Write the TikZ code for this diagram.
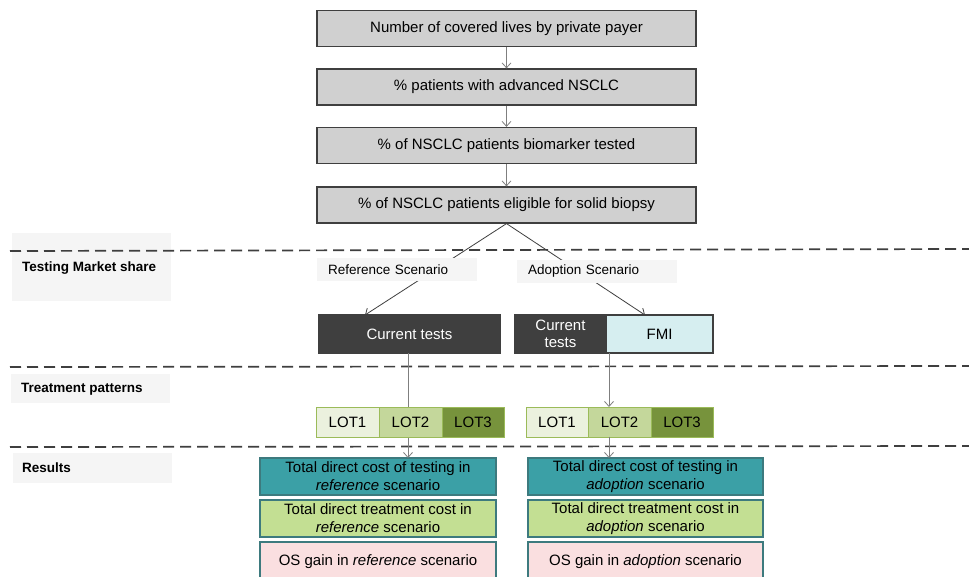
\documentclass[tikz,border=0pt]{standalone}
\usepackage{fontspec}
\setmainfont{Liberation Sans}
\usetikzlibrary{arrows.meta,calc}
\definecolor{topfill}{HTML}{D0D0D0}
\definecolor{edgegray}{HTML}{3F3F3F}
\definecolor{arrgray}{HTML}{7F7F7F}
\definecolor{lblfill}{HTML}{F5F5F5}
\definecolor{darkfill}{HTML}{3F3F3F}
\definecolor{fmifill}{HTML}{D6EEF0}
\definecolor{lotone}{HTML}{EBF1DE}
\definecolor{lottwo}{HTML}{C4D79B}
\definecolor{lotthree}{HTML}{77933C}
\definecolor{lotedge}{HTML}{9BBB59}
\definecolor{tealfill}{HTML}{3BA0A6}
\definecolor{greenfill}{HTML}{C3DF93}
\definecolor{pinkfill}{HTML}{FADFE0}
\definecolor{resedge}{HTML}{3D7A7E}
\newcommand\myfs{\fontsize{15}{18}\selectfont}
\newcommand\mylblfs{\fontsize{13.5}{16}\selectfont}
\begin{document}
\begin{tikzpicture}[x=1pt,y=-1pt,
  topbox/.style={draw=edgegray, line width=1.2pt, fill=topfill, minimum width=379pt, minimum height=36pt, inner sep=0pt, font=\myfs},
  flowarrow/.style={draw=arrgray, line width=0.8pt, -{Straight Barb[length=5pt,width=9pt]}},
  darkarrow/.style={draw=edgegray, line width=0.8pt, -{Straight Barb[length=5pt,width=9pt]}},
  sepline/.style={draw=edgegray, line width=1.7pt, dash pattern=on 11pt off 6pt},
  lblbox/.style={fill=lblfill, draw=none, inner sep=0pt, anchor=north west},
  lbltext/.style={font=\mylblfs\bfseries, anchor=west, inner sep=0pt},
  scen/.style={fill=lblfill, draw=none, inner xsep=11pt, inner ysep=0pt, text width=138pt, align=left, minimum height=23pt, font=\mylblfs},
  darkbox/.style={draw=edgegray, line width=1.2pt, fill=darkfill, text=white, minimum height=38pt, inner sep=0pt, font=\myfs, align=center},
  fmibox/.style={draw=edgegray, line width=1.2pt, fill=fmifill, minimum height=38pt, inner sep=0pt, font=\myfs},
  lot/.style={draw=lotedge, line width=1pt, minimum height=30pt, inner sep=0pt, font=\myfs},
  res/.style={draw=resedge, line width=1.2pt, inner sep=0pt, font=\myfs, align=center}
]
\clip (0,0) rectangle (969,576);
\fill[white] (0,0) rectangle (969,576);

% left labels
\node[lblbox, minimum width=159pt, minimum height=68pt] (l1) at (12,233) {};
\node[lbltext] (t1) at (22,268) {Testing Market share};
\node[lblbox, minimum width=159pt, minimum height=29pt] (l2) at (11,374) {};
\node[lbltext] (t2) at (21,389) {Treatment patterns};
\node[lblbox, minimum width=159pt, minimum height=30pt] (l3) at (13,453) {};
\node[lbltext] (t3) at (22,468) {Results};

% separators
\coordinate (s1a) at (10,251); \coordinate (s1b) at (969,249);
\coordinate (s2a) at (10,367); \coordinate (s2b) at (969,366);
\coordinate (s3a) at (10,447); \coordinate (s3b) at (969,446);
\draw[sepline] (s1a) -- (s1b);
\draw[sepline] (s2a) -- (s2b);
\draw[sepline] (s3a) -- (s3b);

% top chain
\node[topbox] (b1) at (506.5,28.5) {Number of covered lives by private payer};
\node[topbox] (b2) at (506.5,87) {\% patients with advanced NSCLC};
\node[topbox] (b3) at (506.5,145.5) {\% of NSCLC patients biomarker tested};
\node[topbox] (b4) at (506.5,205) {\% of NSCLC patients eligible for solid biopsy};
\draw[flowarrow] (b1) -- (b2);
\draw[flowarrow] (b2) -- (b3);
\draw[flowarrow] (b3) -- (b4);

% testing boxes
\node[darkbox, minimum width=181pt] (ct1) at (409.5,334) {Current tests};
\node[darkbox, minimum width=91pt] (ct2) at (560.5,334) {Current\\[-1pt]tests};
\node[fmibox, minimum width=107pt] (fmi) at (659.5,334) {FMI};

% diagonal arrows
\coordinate (apex) at (b4.south);
\coordinate (ct1in) at (365,315);
\coordinate (fmiin) at (645,315);
\draw[darkarrow] (apex) -- (ct1in);
\draw[darkarrow] (apex) -- (fmiin);
\node[scen] (ref) at (397,269.5) {Reference Scenario};
\node[scen] (adp) at (597,271) {Adoption Scenario};

% result boxes
\node[res, fill=tealfill, minimum width=236pt, minimum height=37pt] (r1) at (378,476.5) {Total direct cost of testing in\\\textit{reference} scenario};
\node[res, fill=greenfill, minimum width=236pt, minimum height=37pt] (r2) at (378,518.5) {Total direct treatment cost in\\\textit{reference} scenario};
\node[res, fill=pinkfill, minimum width=236pt, minimum height=40pt] (r3) at (378,562) {OS gain in \textit{reference} scenario};
\node[res, fill=tealfill, minimum width=235pt, minimum height=37pt] (a1) at (645.5,476.5) {Total direct cost of testing in\\\textit{adoption} scenario};
\node[res, fill=greenfill, minimum width=235pt, minimum height=37pt] (a2) at (645.5,518.5) {Total direct treatment cost in\\\textit{adoption} scenario};
\node[res, fill=pinkfill, minimum width=235pt, minimum height=40pt] (a3) at (645.5,562) {OS gain in \textit{adoption} scenario};

% vertical connectors
\coordinate (lvtop) at (408,353);
\coordinate (lvbot) at (408,458);
\draw[flowarrow] (lvtop) -- (lvbot);

% LOT boxes
\node[lot, fill=lotone, minimum width=63pt] (la1) at (347.5,422) {LOT1};
\node[lot, fill=lottwo, minimum width=63pt] (la2) at (410.5,422) {LOT2};
\node[lot, fill=lotthree, minimum width=62pt] (la3) at (473,422) {LOT3};
\node[lot, fill=lotone, minimum width=62pt] (lb1) at (557,422) {LOT1};
\node[lot, fill=lottwo, minimum width=63pt] (lb2) at (619.5,422) {LOT2};
\node[lot, fill=lotthree, minimum width=62pt] (lb3) at (682,422) {LOT3};

\coordinate (rvtop) at (609,353);
\coordinate (rvmid) at (609,407);
\coordinate (rvmid2) at (609,437);
\coordinate (rvbot) at (609,458);
\draw[flowarrow] (rvtop) -- (rvmid);
\draw[flowarrow] (rvmid2) -- (rvbot);
\end{tikzpicture}
\end{document}
